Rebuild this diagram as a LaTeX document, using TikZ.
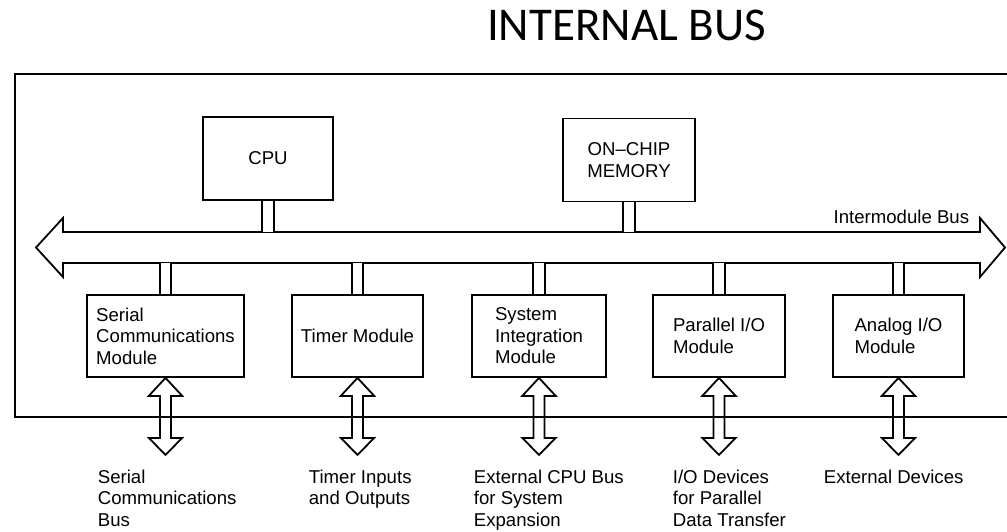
\documentclass[tikz,border=0pt]{standalone}
\usepackage{fontspec}
\setmainfont{Liberation Sans}
\newfontfamily\titlefont{Carlito}
\usepackage{tikz}
\usetikzlibrary{calc}

\begin{document}
\begin{tikzpicture}[x=1pt,y=-1pt,line width=1.8pt,
  box/.style={draw,shape=rectangle,inner sep=0pt,align=left,
    minimum height=82pt,font=\fontsize{18.6}{21.5}\selectfont},
  label/.style={anchor=north west,inner sep=0pt,align=left,
    font=\fontsize{18.6}{21.5}\selectfont},
  link/.style={double,double distance=9.5pt},
  hollowArrow/.style={line join=miter}]
\useasboundingbox (0,0) rectangle (1007,531);

\node (title) [anchor=base] at (626.5,40)
{\titlefont\fontsize{47}{52}\selectfont INTERNAL BUS};

% outer frame, open on the right
\draw (1010,74) -- (15,74) -- (15,417) -- (1010,417);

\coordinate (busTop) at (0,232);
\coordinate (busBot) at (0,263);

\node (CPU) [box, minimum width=130pt, minimum height=83pt] at (268,158.5) {CPU};
\node (onChipMemory) [box, minimum width=132pt, minimum height=83pt, align=center]
at (629,160) {ON--CHIP\\MEMORY};

\node (serialComm) [box, minimum width=157pt] at (165.5,336)
{Serial\\Communications\\Module};
\node (timerModule) [box, minimum width=131pt] at (357.5,336)
{Timer Module};
\node (systemIntegration) [box, minimum width=134pt] at (539,336)
{System\\Integration\\Module};
\node (parallelIO) [box, minimum width=132pt] at (719,336)
{Parallel I/O\\Module};
\node (analogIO) [box, minimum width=131pt] at (898.5,336)
{Analog I/O\\Module};

\node (serialBus) [label] at (97,469)
{Serial\\Communications\\Bus};
\node (timerIO) [label] at (308,469)
{Timer Inputs\\and Outputs};
\node (extCPUBus) [label] at (473,469)
{External CPU Bus\\for System\\Expansion};
\node (ioDevices) [label] at (672,469)
{I/O Devices\\for Parallel\\Data Transfer};
\node (extDevices) [label] at (823,469)
{External Devices};

% intermodule bus
\draw[fill=white,line join=miter] (36,247.5) -- (63,218) -- (63,232) -- (980,232)
  -- (980,218) -- (1005,247.5) -- (980,277) -- (980,263) -- (63,263)
  -- (63,277) -- cycle;
\node (busLabel) [anchor=base east,inner sep=0pt,
  font=\fontsize{18.6}{21.5}\selectfont] at (970,223) {Intermodule Bus};

% links to the bus
\draw[link] (CPU.south) -- (CPU.south |- busTop);
\draw[link] (onChipMemory.south) -- (onChipMemory.south |- busTop);
\foreach \m in {serialComm,timerModule,systemIntegration,parallelIO,analogIO}
  \draw[link] (\m.north) -- (\m.north |- busBot);

% external double arrows
\foreach \m in {serialComm,timerModule,systemIntegration,parallelIO,analogIO}
  \draw[hollowArrow] (\m.south) -- ++(16.7,18) -- ++(-11.2,0) -- ++(0,42)
    -- ++(11.2,0) -- ++(-16.7,17) -- ++(-16.7,-17) -- ++(11.2,0)
    -- ++(0,-42) -- ++(-11.2,0) -- cycle;
\end{tikzpicture}
\end{document}
